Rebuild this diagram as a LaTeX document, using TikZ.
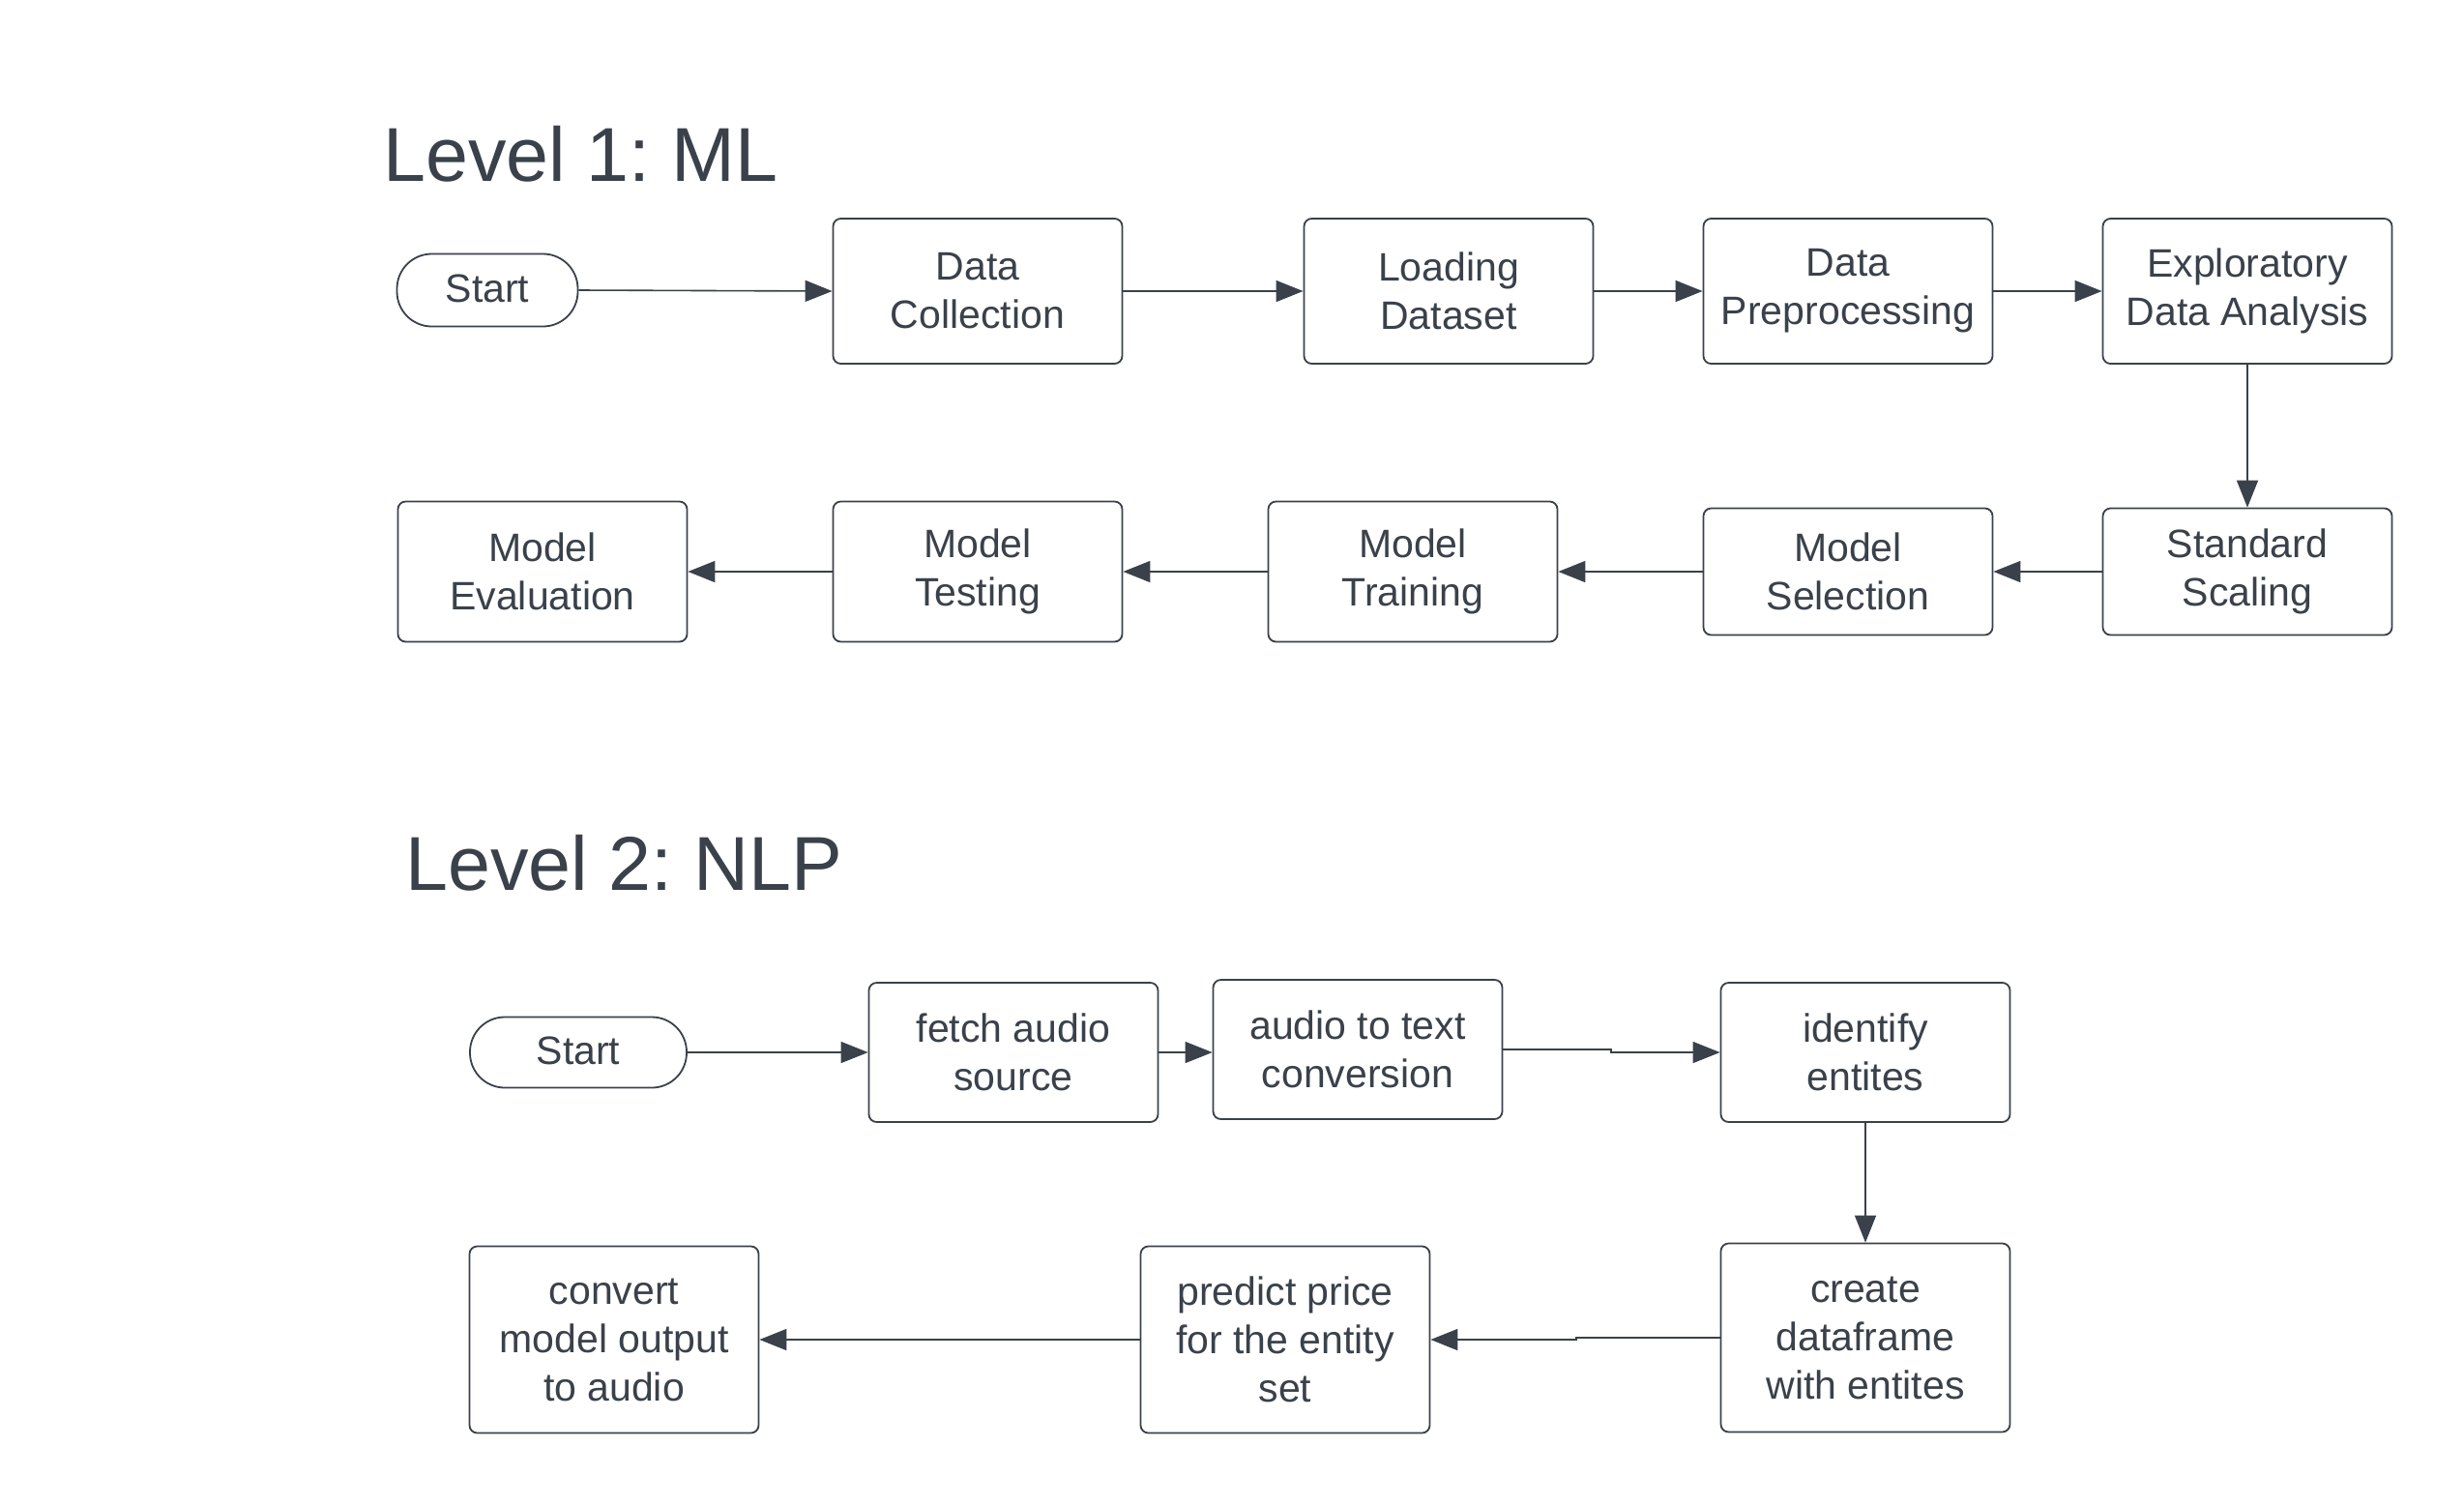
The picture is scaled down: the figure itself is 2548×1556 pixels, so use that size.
\documentclass[tikz,border=0pt]{standalone}
\usepackage{fontspec}
\setmainfont{Liberation Sans}
\usetikzlibrary{arrows.meta}
\definecolor{ink}{RGB}{58,65,74}
\frenchspacing
\begin{document}
\begin{tikzpicture}[x=1pt,y=-1pt,
  box/.style={draw=ink, line width=1.8pt, rounded corners=8pt, text=ink, align=center,
    font=\fontsize{41}{50}\selectfont, inner sep=0pt},
  term/.style={draw=ink, line width=1.8pt, rounded corners=36pt, text=ink, align=center,
    font=\fontsize{41}{50}\selectfont, inner sep=0pt},
  conn/.style={draw=ink, line width=1.6pt, -{Triangle[length=28pt,width=22pt]}},
  title/.style={text=ink, font=\fontsize{79}{90}\selectfont, anchor=base west, inner sep=0pt}]
\useasboundingbox (0,0) rectangle (2548,1556);
\fill[white] (0,0) rectangle (2548,1556);

% Level 1
\node[title] (t1) at (396,187) {\frenchspacing Level 1: ML};
\node[term, minimum width=187pt, minimum height=75pt] (s1) at (504,300) {\raisebox{4pt}{Start}};
\node[box, minimum width=299pt, minimum height=150pt] (dc) at (1011,301) {Data\\Collection};
\node[box, minimum width=299pt, minimum height=150pt] (ld) at (1498,301) {Loading\\Dataset};
\node[box, minimum width=299pt, minimum height=150pt] (dp) at (1911,301) {Data\\Preprocessing};
\node[box, minimum width=299pt, minimum height=150pt] (eda) at (2324,301) {Exploratory\\Data Analysis};
\node[box, minimum width=299pt, minimum height=131pt] (ss) at (2324,591) {Standard\\Scaling};
\node[box, minimum width=299pt, minimum height=131pt] (ms) at (1911,591) {Model\\Selection};
\node[box, minimum width=299pt, minimum height=145pt] (mt) at (1461,591) {Model\\Training};
\node[box, minimum width=299pt, minimum height=145pt] (mte) at (1011,591) {Model\\Testing};
\node[box, minimum width=299pt, minimum height=145pt] (me) at (561,591) {Model\\Evaluation};

\draw[conn] (s1.east) -- (dc.west);
\draw[conn] (dc.east) -- (ld.west);
\draw[conn] (ld.east) -- (dp.west);
\draw[conn] (dp.east) -- (eda.west);
\draw[conn] (eda.south) -- (ss.north);
\draw[conn] (ss.west) -- (ms.east);
\draw[conn] (ms.west) -- (mt.east);
\draw[conn] (mt.west) -- (mte.east);
\draw[conn] (mte.west) -- (me.east);

% Level 2
\node[title] (t2) at (419,920) {\frenchspacing Level 2: NLP};
\node[term, minimum width=224pt, minimum height=73pt] (s2) at (598,1088) {\raisebox{4pt}{Start}};
\node[box, minimum width=299pt, minimum height=144pt] (fa) at (1048,1088) {fetch audio\\source};
\node[box, minimum width=299pt, minimum height=144pt] (at) at (1404,1085) {audio to text\\conversion};
\node[box, minimum width=299pt, minimum height=144pt] (ie) at (1929,1088) {identify\\entites};
\node[box, minimum width=299pt, minimum height=195pt] (cd) at (1929,1383) {create\\dataframe\\with entites};
\node[box, minimum width=299pt, minimum height=193pt] (pp) at (1329,1385) {predict price\\for the entity\\set};
\node[box, minimum width=299pt, minimum height=193pt] (co) at (635,1385) {convert\\model output\\to audio};

\coordinate (j1) at (1666,1085);
\coordinate (j2) at (1630,1383);
\draw[conn] (s2.east) -- (fa.west);
\draw[conn] (fa.east) -- (at.west |- fa.east);
\draw[conn] (at.east) -- (j1) -- ++(0,3) -- (ie.west);
\draw[conn] (ie.south) -- (cd.north);
\draw[conn] (cd.west) -- (j2) -- ++(0,2) -- (pp.east);
\draw[conn] (pp.west) -- (co.east);
\end{tikzpicture}
\end{document}
